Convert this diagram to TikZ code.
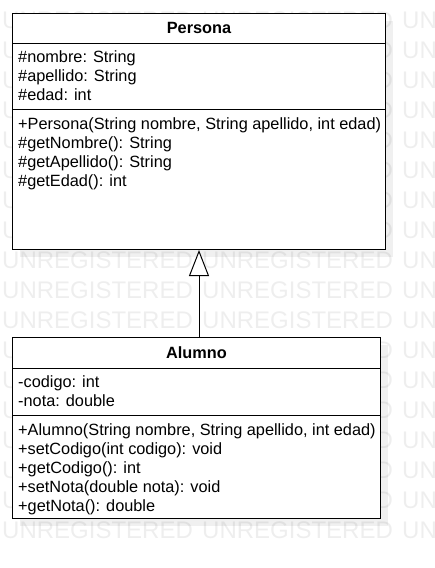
\documentclass[tikz,border=0pt]{standalone}
\usepackage{fontspec}
\setmainfont{Liberation Sans}
\usetikzlibrary{arrows.meta,positioning}
\definecolor{watermark}{HTML}{EEEEEE}
\definecolor{umlline}{HTML}{000000}

\begin{document}
\begin{tikzpicture}[x=1pt,y=-1pt,
  classbox/.style={draw=umlline,line width=1pt,fill=white,anchor=north west,inner sep=0pt},
  classtitle/.style={inner sep=0pt,minimum height=30pt,font=\fontsize{16.3}{19}\selectfont\bfseries},
  member/.style={anchor=north west,align=left,inner sep=0pt,font=\fontsize{16.3}{19}\selectfont},
  divider/.style={draw=umlline,line width=1pt},
  boxshadow/.style={fill=black,opacity=0.06}]
\useasboundingbox (0,0) rectangle (435,568);
\foreach \r in {0,...,17}
  \foreach \c in {0,1,2}
    \node[anchor=west,inner sep=0pt,text=watermark,font=\fontsize{24}{24}\selectfont] (wm-\r-\c) at (2+200*\c,20+30*\r) {UNREGISTERED};

\fill[boxshadow] (20,21) rectangle (393,257);
\fill[boxshadow] (20,345) rectangle (388,526);

\node[classbox,minimum width=373pt,minimum height=236pt] (persona) at (12,13) {};
\node[classtitle,below=0pt of persona.north] (persona-title) {Persona};
\draw[divider] ([yshift=-30pt]persona.north west) coordinate (persona-d1) -- ([yshift=-30pt]persona.north east);
\draw[divider] ([yshift=-96pt]persona.north west) coordinate (persona-d2) -- ([yshift=-96pt]persona.north east);
\node[member] (persona-attr) at ([xshift=6pt,yshift=-7pt]persona-d1) {\#nombre: String\\\#apellido: String\\\#edad: int};
\node[member] (persona-ops) at ([xshift=6pt,yshift=-8pt]persona-d2) {+Persona(String nombre, String apellido, int edad)\\\#getNombre(): String\\\#getApellido(): String\\\#getEdad(): int};

\node[classbox,minimum width=368pt,minimum height=181pt] (alumno) at (12,337) {};
\node[classtitle,below=0pt of alumno.north] (alumno-title) {Alumno};
\draw[divider] ([yshift=-31pt]alumno.north west) coordinate (alumno-d1) -- ([yshift=-31pt]alumno.north east);
\draw[divider] ([yshift=-78pt]alumno.north west) coordinate (alumno-d2) -- ([yshift=-78pt]alumno.north east);
\node[member] (alumno-attr) at ([xshift=6pt,yshift=-7pt]alumno-d1) {-codigo: int\\-nota: double};
\node[member] (alumno-ops) at ([xshift=6pt,yshift=-8pt]alumno-d2) {+Alumno(String nombre, String apellido, int edad)\\+setCodigo(int codigo): void\\+getCodigo(): int\\+setNota(double nota): void\\+getNota(): double};

\draw[umlline,line width=1pt,-{Triangle[open,fill=white,length=26pt,width=20pt]}] (alumno.north -| persona.south) -- (persona.south);
\end{tikzpicture}
\end{document}
